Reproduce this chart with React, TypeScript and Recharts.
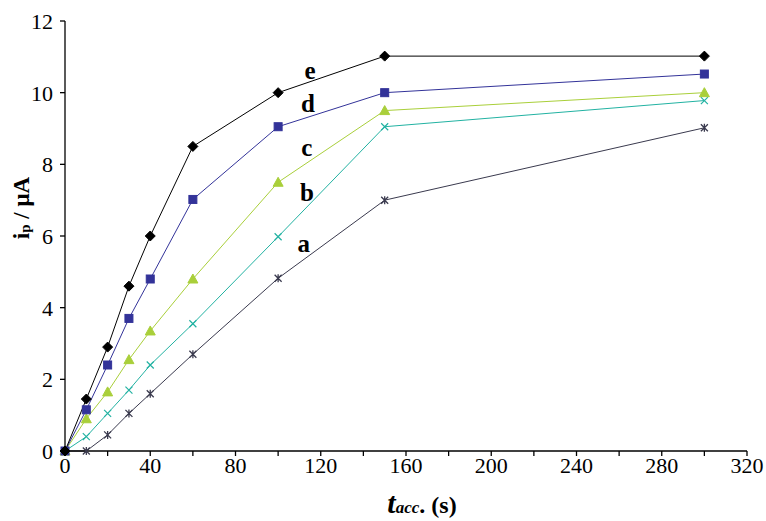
import React from 'react';
import { LineChart, Line, XAxis, YAxis, ReferenceDot } from 'recharts';

const times = [0, 10, 20, 30, 40, 60, 100, 150, 300];
const seriesA = [0, 0, 0.45, 1.05, 1.6, 2.7, 4.82, 7.0, 9.02];
const seriesB = [0, 0.4, 1.05, 1.7, 2.4, 3.55, 5.98, 9.05, 9.78];
const seriesC = [0, 0.9, 1.65, 2.55, 3.35, 4.8, 7.5, 9.5, 10.0];
const seriesD = [0, 1.15, 2.4, 3.7, 4.8, 7.02, 9.05, 10.0, 10.52];
const seriesE = [0, 1.45, 2.9, 4.6, 6.0, 8.5, 10.0, 11.02, 11.02];

const xTicks = [0, 20, 40, 60, 80, 100, 120, 140, 160, 180, 200, 220, 240, 260, 280, 300, 320];
const yTicks = [0, 2, 4, 6, 8, 10, 12];

const curveLabels = [
  { name: 'e', x: 115, y: 10.62 },
  { name: 'd', x: 114, y: 9.69 },
  { name: 'c', x: 113.5, y: 8.47 },
  { name: 'b', x: 113.5, y: 7.21 },
  { name: 'a', x: 112, y: 5.79 },
];

const data = times.map((t, i) => ({
  t,
  a: seriesA[i],
  b: seriesB[i],
  c: seriesC[i],
  d: seriesD[i],
  e: seriesE[i],
}));

const FONT = '"Liberation Serif", "Times New Roman", serif';

const colors = {
  a: '#3a3a4e',
  b: '#22b2a2',
  c: '#a9cf3a',
  d: '#333399',
  e: '#000000',
};

const Diamond = (p: any) => {
  const { cx, cy } = p;
  if (cx == null || cy == null) return null;
  const s = 5;
  return <path d={`M${cx},${cy - s}L${cx + s},${cy}L${cx},${cy + s}L${cx - s},${cy}Z`} fill={colors.e} stroke={colors.e} />;
};
const Square = (p: any) => {
  const { cx, cy } = p;
  if (cx == null || cy == null) return null;
  const s = 4;
  return <rect x={cx - s} y={cy - s} width={2 * s} height={2 * s} fill={colors.d} stroke={colors.d} />;
};
const Triangle = (p: any) => {
  const { cx, cy } = p;
  if (cx == null || cy == null) return null;
  const s = 5;
  return <path d={`M${cx},${cy - s}L${cx + s},${cy + s * 0.8}L${cx - s},${cy + s * 0.8}Z`} fill={colors.c} stroke={colors.c} />;
};
const XMark = (p: any) => {
  const { cx, cy } = p;
  if (cx == null || cy == null) return null;
  const s = 3.5;
  return (
    <path d={`M${cx - s},${cy - s}L${cx + s},${cy + s}M${cx - s},${cy + s}L${cx + s},${cy - s}`} stroke={colors.b} strokeWidth={1.2} fill="none" />
  );
};
const Asterisk = (p: any) => {
  const { cx, cy } = p;
  if (cx == null || cy == null) return null;
  const s = 3.5;
  return (
    <path
      d={`M${cx - s},${cy - s}L${cx + s},${cy + s}M${cx - s},${cy + s}L${cx + s},${cy - s}M${cx},${cy - s - 0.5}L${cx},${cy + s + 0.5}`}
      stroke={colors.a}
      strokeWidth={1.3}
      fill="none"
    />
  );
};

const XTick = (p: any) => {
  const { x, y, payload } = p;
  const v = payload?.value;
  if (v == null || v % 40 !== 0) return null;
  return (
    <text x={x} y={y + 15} textAnchor="middle" fontFamily={FONT} fontSize={22} fill="#000">
      {String(v)}
    </text>
  );
};

const YTick = (p: any) => {
  const { x, y, payload } = p;
  return (
    <text x={x} y={y + 8} textAnchor="end" fontFamily={FONT} fontSize={22} fill="#000">
      {String(payload?.value)}
    </text>
  );
};

const YLabel = (props: any) => {
  const vb = props.viewBox || {};
  const cx = (vb.x ?? 0) + 21;
  const cy = (vb.y ?? 0) + (vb.height ?? 0) / 2 - 28;
  return (
    <text
      x={cx}
      y={cy}
      transform={`rotate(-90, ${cx}, ${cy})`}
      textAnchor="middle"
      dominantBaseline="central"
      fontFamily={FONT}
      fontWeight="bold"
      fontSize={23}
      fill="#000"
    >
      <tspan>i</tspan>
      <tspan fontSize={15} dy={4}>p</tspan>
      <tspan dy={-4}> / μA</tspan>
    </text>
  );
};

const XLabel = (props: any) => {
  const vb = props.viewBox || {};
  const cx = (vb.x ?? 0) + (vb.width ?? 0) / 2 + 16;
  const y = (vb.y ?? 0) + 62;
  return (
    <text x={cx} y={y} textAnchor="middle" fontFamily={FONT} fontWeight="bold" fill="#000">
      <tspan fontSize={30} fontStyle="italic">t</tspan>
      <tspan fontSize={17} fontStyle="italic">acc</tspan>
      <tspan fontSize={24}>. (s)</tspan>
    </text>
  );
};

const LetterShape = (name: string) => (p: any) => {
  const { cx, cy } = p;
  if (cx == null || cy == null) return null;
  return (
    <text x={cx} y={cy} textAnchor="middle" dominantBaseline="central" fontFamily={FONT} fontWeight="bold" fontSize={25} fill="#000">
      {name}
    </text>
  );
};

export default function App() {
  return (
    <div style={{ position: 'absolute', left: 0, top: 0, width: 766, height: 521, background: '#fff' }}>
      <LineChart width={766} height={521} data={data} margin={{ top: 21, right: 19, left: 0, bottom: 0 }}>
        <XAxis
          dataKey="t"
          type="number"
          domain={[0, 320]}
          ticks={xTicks}
          interval={0}
          axisLine={{ stroke: '#000', strokeWidth: 1.3 }}
          tickLine={{ stroke: '#000', strokeWidth: 1.3 }}
          tickSize={5}
          tickMargin={2}
          height={70}
          tick={<XTick />}
          label={<XLabel />}
        />
        <YAxis
          type="number"
          domain={[0, 12]}
          ticks={yTicks}
          interval={0}
          axisLine={{ stroke: '#000', strokeWidth: 1.3 }}
          tickLine={{ stroke: '#000', strokeWidth: 1.3 }}
          tickSize={5}
          tickMargin={7}
          width={65}
          tick={<YTick />}
          label={<YLabel />}
        />
        <Line type="linear" dataKey="a" stroke={colors.a} strokeWidth={1} dot={<Asterisk />} isAnimationActive={false} />
        <Line type="linear" dataKey="b" stroke={colors.b} strokeWidth={1} dot={<XMark />} isAnimationActive={false} />
        <Line type="linear" dataKey="c" stroke={colors.c} strokeWidth={1} dot={<Triangle />} isAnimationActive={false} />
        <Line type="linear" dataKey="d" stroke={colors.d} strokeWidth={1} dot={<Square />} isAnimationActive={false} />
        <Line type="linear" dataKey="e" stroke={colors.e} strokeWidth={1} dot={<Diamond />} isAnimationActive={false} />
        {curveLabels.map((l) => (
          <ReferenceDot key={l.name} x={l.x} y={l.y} r={0} shape={LetterShape(l.name)} />
        ))}
      </LineChart>
    </div>
  );
}
